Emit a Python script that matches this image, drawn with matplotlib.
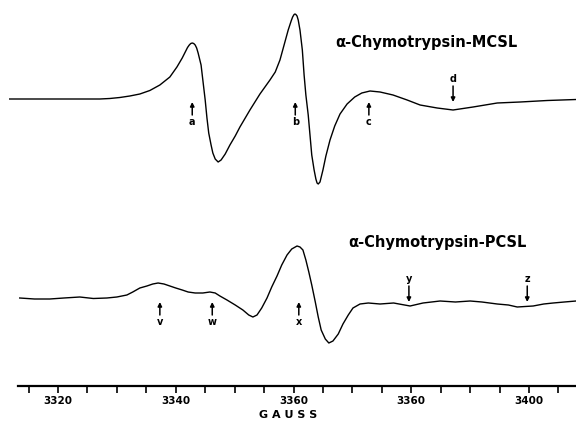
import matplotlib
matplotlib.use('Agg')
import matplotlib.pyplot as plt

# --- data (field in gauss, signal in arbitrary units) ---
mcsl_field = [3311.8, 3318.0, 3324.0, 3327.1, 3328.8, 3330.5, 3332.2, 3333.9, 3335.6,
              3337.3, 3339.0, 3340.2, 3341.1, 3341.7, 3342.0, 3342.3, 3342.55, 3342.8,
              3343.05, 3343.3, 3343.55, 3343.8,
              3344.3, 3344.6, 3345.0, 3345.3, 3345.6, 3346.0, 3346.3, 3346.7, 3347.2,
              3347.7, 3348.4, 3349.2, 3350.1, 3350.9, 3352.6, 3354.3, 3356.0, 3356.9,
              3357.7, 3358.4, 3359.1, 3359.6, 3359.85, 3360.1, 3360.25, 3360.4, 3360.6,
              3360.8, 3361.1, 3361.5,
              3361.8, 3362.1, 3362.5, 3362.8, 3363.1, 3363.5, 3363.8, 3364.0, 3364.2,
              3364.5, 3365.0, 3365.5, 3366.2, 3367.0, 3367.9, 3369.1, 3370.4, 3371.6,
              3373.0, 3374.7, 3376.9, 3379.3, 3381.5, 3384.4, 3387.1, 3390.5, 3394.6,
              3398.5, 3403.1, 3408.0]
mcsl_signal = [1, 1, 1, 1, 1.5, 2.5, 4, 6, 9.5,
               15, 23, 33, 42, 49, 52.5, 55, 56.5, 57,
               56.5, 55, 52, 47,
               35, 20, 0, -18, -33, -45, -53, -59, -62,
               -60, -54, -45, -36, -27, -10, 6, 20, 28,
               40, 55, 70, 79, 83, 85.5, 86, 85.5, 84,
               80, 70, 50,
               25, 5, -15, -35, -55, -70, -79, -83, -84,
               -82, -70, -56, -40, -26, -14, -4, 3, 7,
               9, 8, 5, 0, -5, -8, -10, -7, -3,
               -2, -0.5, 0.5]

pcsl_field = [3313.5, 3316.0, 3318.6, 3321.0, 3323.7, 3326.0, 3328.3, 3330.0, 3331.7,
              3332.7, 3333.9, 3335.1, 3336.1, 3337.0, 3338.0, 3339.0, 3340.0, 3341.1,
              3342.1, 3343.3, 3344.6, 3345.8, 3346.7, 3347.5, 3348.7, 3350.1, 3351.4,
              3352.4, 3353.1, 3353.8, 3354.6, 3355.5, 3356.3, 3357.2, 3358.0, 3358.9,
              3359.7, 3360.6, 3361.1, 3361.6, 3362.1, 3362.6, 3363.1, 3363.7, 3364.2,
              3364.7, 3365.4, 3366.0, 3366.7, 3367.6, 3368.4, 3369.3, 3370.1, 3371.3,
              3372.7, 3374.7, 3377.0, 3379.8, 3382.0, 3384.9, 3387.5, 3390.0, 3392.0,
              3394.6, 3396.5, 3398.0, 3400.7, 3402.5, 3404.1, 3406.0, 3408.0]
pcsl_signal = [2, 1, 1, 2, 3, 1.5, 2, 3, 5,
               8, 12, 14, 16, 17, 16, 14, 12, 10,
               8, 7, 7, 8, 7, 4, 0, -5, -10,
               -15, -17, -15, -8, 2, 13, 24, 35, 45,
               51, 54, 53, 50, 40, 28, 15, -2, -17,
               -30, -39, -43, -41, -34, -24, -15, -8, -4,
               -3, -4, -3, -6, -3, -1, -2, -1, -2,
               -4, -5, -7, -6, -4, -3, -2, -1]

mcsl_marks = ['a', 'b', 'c', 'd']
mcsl_mark_field = [3342.8, 3360.3, 3372.8, 3387.1]
mcsl_mark_down = [False, False, False, True]

pcsl_marks = ['v', 'w', 'x', 'y', 'z']
pcsl_mark_field = [3337.3, 3346.2, 3360.9, 3379.6, 3399.7]
pcsl_mark_down = [False, False, False, True, True]

tick_pos = [3320, 3340, 3360, 3380, 3400]
tick_lab = ['3320', '3340', '3360', '3360', '3400']
minor_pos = list(range(3315, 3410, 5))

# layout: y in "pixels from top" (negated), traces offset to their baselines
top_base, bot_base = -100, -300

fig = plt.figure(figsize=(5.76, 4.25), dpi=100)
ax = fig.add_axes([0, 39 / 425, 1, 386 / 425])
ax.set_xlim(3310.15, 3407.98)
ax.set_ylim(-386, 0)

ax.plot(mcsl_field, [top_base + s for s in mcsl_signal], color='k', lw=1.0,
        solid_joinstyle='round', clip_on=False)
ax.plot(pcsl_field, [bot_base + s for s in pcsl_signal], color='k', lw=1.0,
        solid_joinstyle='round', clip_on=False)

bold = dict(fontweight='bold', family='DejaVu Sans')
ax.text(3382.5, -43, 'α-Chymotrypsin-MCSL', ha='center', va='center', fontsize=10.5, **bold)
ax.text(3384.4, -242, 'α-Chymotrypsin-PCSL', ha='center', va='center', fontsize=10.5, **bold)

arrow = dict(arrowstyle='-|>', lw=1.1, color='k', mutation_scale=6, shrinkA=0, shrinkB=0)

def marks(names, fields, downs, base):
    for n, g, down in zip(names, fields, downs):
        if down:
            ax.annotate('', xy=(g, base - 2), xytext=(g, base + 14), arrowprops=arrow)
            ax.text(g, base + 21, n, ha='center', va='center', fontsize=7, **bold)
        else:
            ax.annotate('', xy=(g, base - 2), xytext=(g, base - 15), arrowprops=arrow)
            ax.text(g, base - 22, n, ha='center', va='center', fontsize=7, **bold)

marks(mcsl_marks, mcsl_mark_field, mcsl_mark_down, top_base)
marks(pcsl_marks, pcsl_mark_field, pcsl_mark_down, bot_base)

for s in ['top', 'left', 'right']:
    ax.spines[s].set_visible(False)
ax.spines['bottom'].set_bounds(3313.2, 3408)
ax.spines['bottom'].set_linewidth(1.6)
ax.set_yticks([])
ax.set_xticks(tick_pos)
ax.set_xticklabels(tick_lab, fontsize=7.5, fontweight='bold')
ax.set_xticks(minor_pos, minor=True)
ax.tick_params(axis='x', which='both', direction='out', length=5, width=1.2, pad=2)
ax.set_xlabel('G A U S S', fontsize=8, fontweight='bold', labelpad=3)

fig.savefig('out.png', dpi=100)
